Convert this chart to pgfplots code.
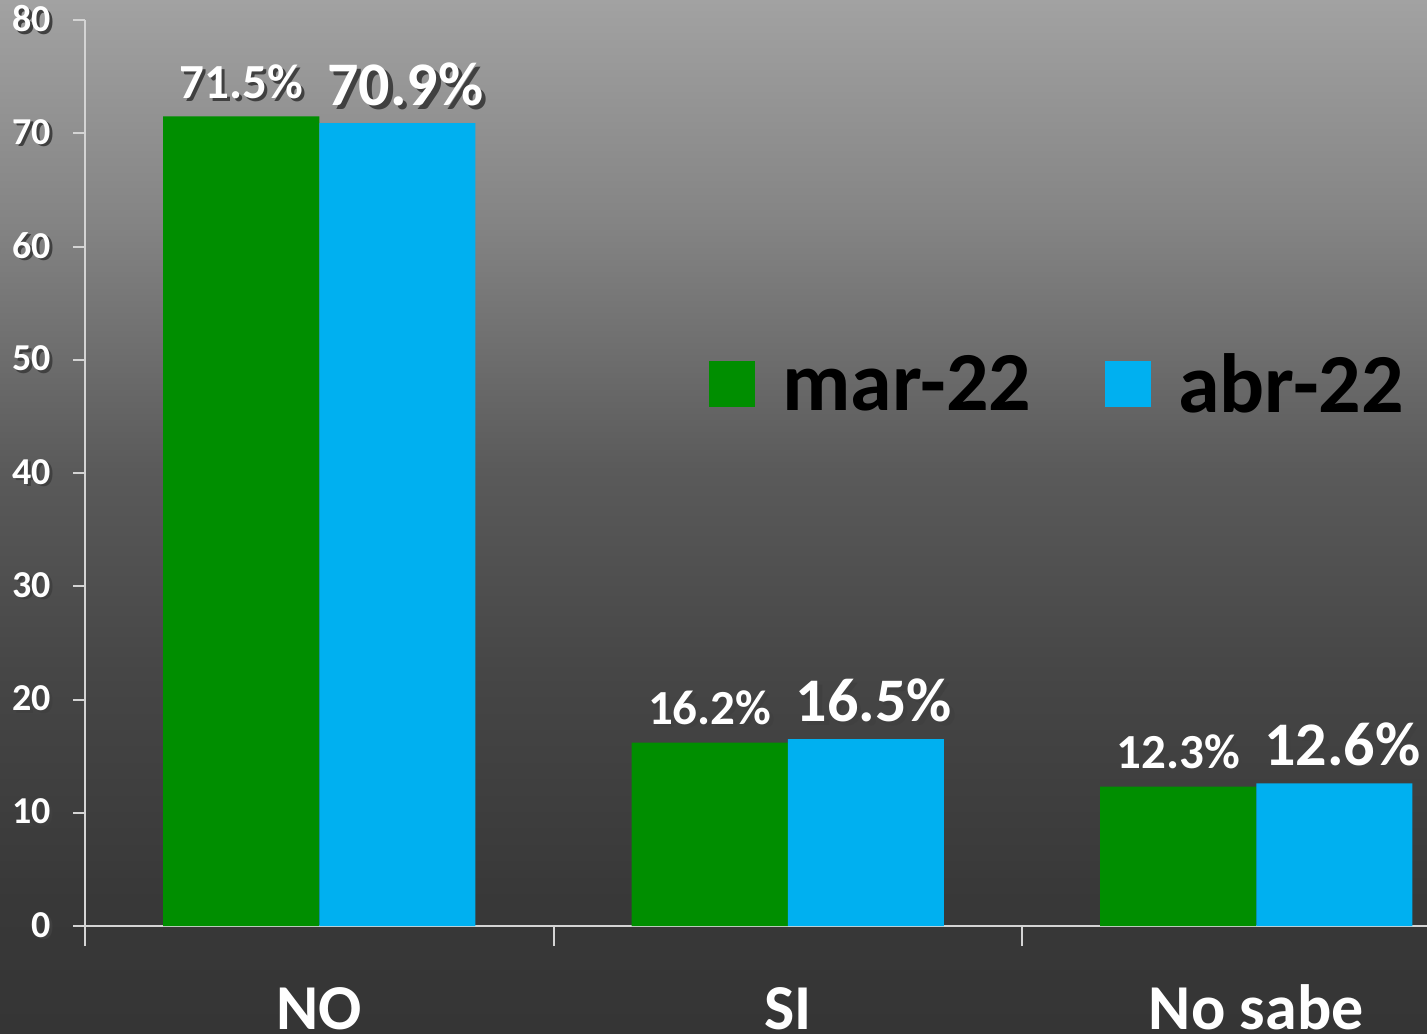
\documentclass[border=0pt]{standalone}
\usepackage{pgfplots}
\pgfplotsset{compat=1.18}
\usepackage{fontspec}
\setmainfont{Carlito}
\definecolor{mgreen}{RGB}{0,142,0}
\definecolor{mblue}{RGB}{0,176,240}
\definecolor{axgray}{RGB}{212,212,212}
\newcommand\sh[1]{\leavevmode\rlap{\kern0.07em\raisebox{-0.07em}{\textcolor{black!75}{#1}}}#1}
\pgfdeclareverticalshading{bgshade}{100bp}{rgb(0bp)=(0.208,0.208,0.208); rgb(25bp)=(0.208,0.208,0.208); rgb(31.44bp)=(0.22,0.22,0.22); rgb(42.57bp)=(0.275,0.275,0.275); rgb(52.25bp)=(0.353,0.353,0.353); rgb(64.35bp)=(0.518,0.518,0.518); rgb(75bp)=(0.635,0.635,0.635); rgb(100bp)=(0.635,0.635,0.635)}
\begin{document}
\begin{tikzpicture}
\path[use as bounding box] (0,0) rectangle (713.5pt,516.5pt);
\clip (0,0) rectangle (713.5pt,516.5pt);
\shade[shading=bgshade] (0,0) rectangle (713.5pt,516.5pt);
\begin{axis}[
  at={(42.5pt,53.5pt)}, anchor=south west,
  scale only axis, width=702.75pt, height=453pt,
  xmin=-0.5, xmax=2.5, ymin=0, ymax=80,
  axis lines*=left,
  axis line style={axgray, line width=1pt},
  ybar=0pt,
  ytick={0,10,...,80},
  xtick={-0.5,0.5,1.5}, xticklabels={,,},
  extra x ticks={0,1,2},
  extra x tick labels={NO,SI,No sabe},
  extra x tick style={major tick style={draw opacity=0},
    tick label style={font=\fontsize{32}{34}\selectfont\bfseries, text=white, anchor=base, yshift=-45.5pt}},
  tick align=outside, major tick length=6pt,
  tick style={axgray, line width=1pt},
  xtick style={/pgfplots/major tick length=10pt},
  yticklabel style={font=\fontsize{19}{21}\selectfont\bfseries, text=white, xshift=-7.5pt},
  yticklabel={\sh{\pgfmathprintnumber{\tick}}},
  /pgf/number format/assume math mode=true,
  legend style={at={(0.444,0.598)}, anchor=west, draw=none, fill=none, inner sep=0pt,
    font=\fontsize{42}{44}\selectfont\bfseries, text=black,
    /tikz/every even column/.append style={column sep=37pt},
    nodes={inner sep=0pt}},
  legend columns=2,
  clip=false,
]
\addplot[fill=mgreen, draw=none, bar width=0.33333, bar shift=-0.166667,
  legend image code/.code={\fill[mgreen] (0pt,-11.5pt) rectangle (23pt,11.5pt); \path (36.5pt,0pt);},
  nodes near coords={\sh{\pgfmathprintnumber[fixed,precision=1,fixed zerofill]{\pgfplotspointmeta}\%}},
  every node near coord/.append style={font=\fontsize{24.5}{26}\selectfont\bfseries, text=white, anchor=base, yshift=9pt}]
  coordinates {(0,71.5) (1,16.2) (2,12.3)};
\addplot[fill=mblue, draw=none, bar width=0.33333, bar shift=0.166667,
  legend image code/.code={\fill[mblue] (0pt,-11.5pt) rectangle (23pt,11.5pt); \path (36.5pt,0pt);},
  nodes near coords={\sh{\pgfmathprintnumber[fixed,precision=1,fixed zerofill]{\pgfplotspointmeta}\%}},
  every node near coord/.append style={font=\fontsize{31}{33}\selectfont\bfseries, text=white, anchor=base, yshift=9pt, xshift=4pt}]
  coordinates {(0,70.9) (1,16.5) (2,12.6)};
\legend{mar-22,abr-22}
\end{axis}
\end{tikzpicture}
\end{document}
